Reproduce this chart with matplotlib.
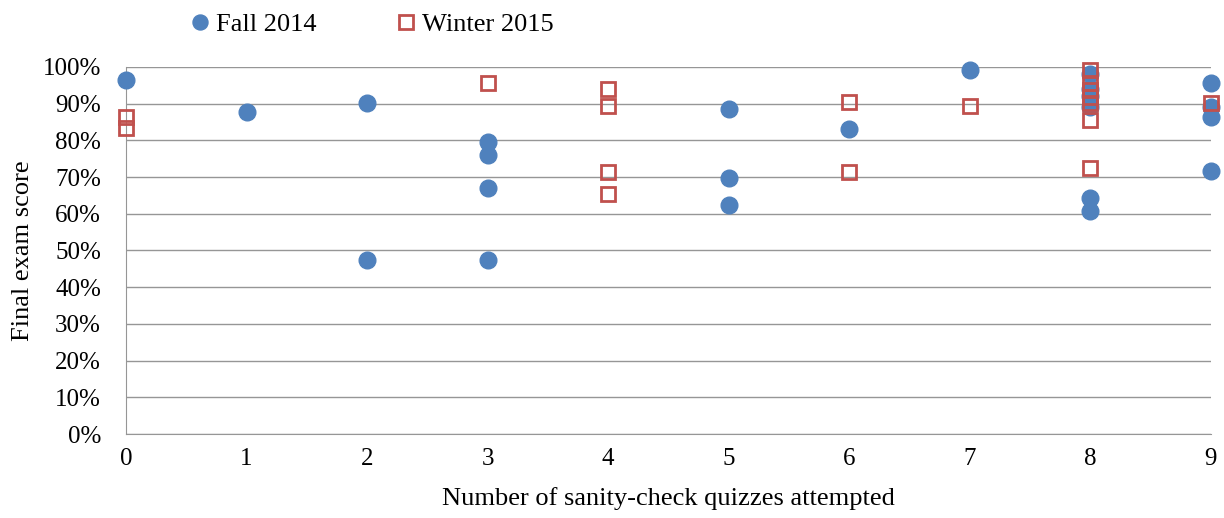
import matplotlib.pyplot as plt
from matplotlib.ticker import PercentFormatter

plt.rcParams['font.family'] = ['Liberation Serif', 'DejaVu Serif']

fall_x = [0, 1, 2, 2, 3, 3, 3, 3, 5, 5, 5, 6, 7, 8, 8, 8, 8, 8, 8, 9, 9, 9, 9]
fall_y = [96.5, 87.7, 90.2, 47.4, 79.6, 76.0, 67.0, 47.4, 88.6, 69.8, 62.4, 83.1, 99.2,
          98.0, 94.0, 92.0, 89.0, 64.3, 60.7, 95.6, 89.0, 86.4, 71.7]

winter_x = [0, 0, 3, 4, 4, 4, 4, 6, 6, 7, 8, 8, 8, 8, 8, 8, 8, 9]
winter_y = [86.4, 83.4, 95.6, 94.0, 89.4, 71.4, 65.4, 90.5, 71.4, 89.4,
            99.2, 95.6, 93.7, 91.8, 90.2, 85.6, 72.5, 90.2]

blue = '#4F81BD'
red = '#C0504D'

fig = plt.figure(figsize=(12.24, 5.18), dpi=100)
ax = fig.add_axes([0.103, 0.162, 0.886, 0.709])

ax.plot(fall_x, fall_y, 'o', color=blue, markersize=12, label='Fall 2014',
        clip_on=False, zorder=3)
ax.plot(winter_x, winter_y, 's', markerfacecolor='none', markeredgecolor=red,
        markeredgewidth=2, markersize=10.5, label='Winter 2015', clip_on=False, zorder=4)

ax.set_xlim(0, 9)
ax.set_ylim(0, 100)
ax.set_xticks(range(10))
ax.set_yticks(range(0, 101, 10))
ax.yaxis.set_major_formatter(PercentFormatter(decimals=0))
ax.tick_params(length=0, labelsize=18)
ax.tick_params(axis='y', pad=18)
ax.tick_params(axis='x', pad=10)
ax.grid(axis='y', color='#969696', linewidth=1)
ax.set_axisbelow(True)
for s in ['top', 'right']:
    ax.spines[s].set_visible(False)
for s in ['left', 'bottom']:
    ax.spines[s].set_color('#969696')

ax.set_xlabel('Number of sanity-check quizzes attempted', fontsize=19, labelpad=12)
ax.set_ylabel('Final exam score', fontsize=19, labelpad=6)

ax.legend(loc='lower left', bbox_to_anchor=(0.0465, 1.055), ncol=2, frameon=False,
          fontsize=19, handlelength=1.0, handletextpad=0.1, columnspacing=2.9,
          borderaxespad=0, markerscale=0.9)

fig.savefig('out.png', dpi=100)
